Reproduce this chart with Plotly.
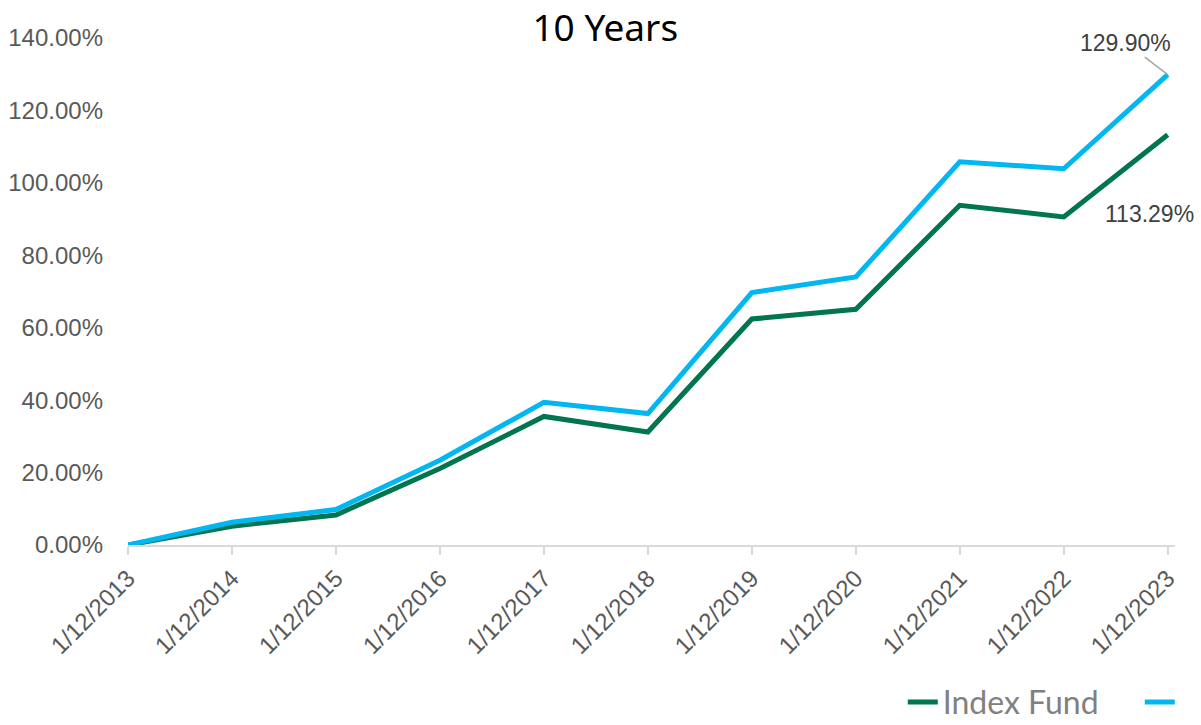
import plotly.graph_objects as go

dates = ["1/12/2013", "1/12/2014", "1/12/2015", "1/12/2016", "1/12/2017", "1/12/2018",
         "1/12/2019", "1/12/2020", "1/12/2021", "1/12/2022", "1/12/2023"]
index_fund = [0.0, 5.2, 8.3, 21.1, 35.5, 31.2, 62.4, 65.1, 93.8, 90.6, 113.29]
fund = [0.0, 6.3, 9.8, 23.4, 39.4, 36.3, 69.7, 74.0, 105.8, 103.9, 129.90]
y_ticks = [0, 20, 40, 60, 80, 100, 120, 140]

fig = go.Figure()
fig.add_trace(go.Scatter(x=dates, y=index_fund, mode="lines", name="Index Fund",
                         line=dict(color="#00754F", width=5)))
fig.add_trace(go.Scatter(x=dates, y=fund, mode="lines", name="",
                         line=dict(color="#00B7F1", width=5)))

fig.add_annotation(x=dates[-1], y=fund[-1], text=f"{fund[-1]:.2f}%", showarrow=True,
                   arrowhead=0, arrowwidth=1.5, arrowcolor="#A6A6A6", ax=-42, ay=-32,
                   font=dict(family="Liberation Sans, Arial", size=23, color="#404040"))
fig.add_annotation(x=dates[-1], y=index_fund[-1], text=f"{index_fund[-1]:.2f}%", showarrow=False,
                   xshift=-18, yshift=-79,
                   font=dict(family="Liberation Sans, Arial", size=23, color="#404040"))

fig.update_layout(
    width=1201, height=725,
    margin=dict(l=128, r=26, t=38, b=180, autoexpand=False),
    paper_bgcolor="white", plot_bgcolor="white",
    title=dict(text="10 Years", x=0.504, xanchor="center", y=0.962, yanchor="middle",
               font=dict(family="Noto Sans, Open Sans", size=37, color="#000000")),
    showlegend=True,
    legend=dict(orientation="h", x=0.74, xanchor="left", y=-0.31, yanchor="middle",
                entrywidth=192, entrywidthmode="pixels",
                font=dict(family="Lato, Liberation Sans", size=32, color="#808080")),
    xaxis=dict(type="category", range=[0, 10.07], showgrid=False, showline=True,
               linecolor="#D9D9D9", linewidth=1.5, ticks="outside", ticklen=8,
               tickcolor="#D9D9D9", tickwidth=1.5, tickangle=-45,
               tickfont=dict(family="Liberation Sans, Arial", size=24, color="#595959")),
    yaxis=dict(range=[0, 140], tickvals=y_ticks, ticktext=[f"{v:.2f}%" for v in y_ticks],
               showgrid=False, showline=False, zeroline=False, ticklabelstandoff=24,
               tickfont=dict(family="Liberation Sans, Arial", size=24, color="#595959")),
)

fig.write_html("out.html")
